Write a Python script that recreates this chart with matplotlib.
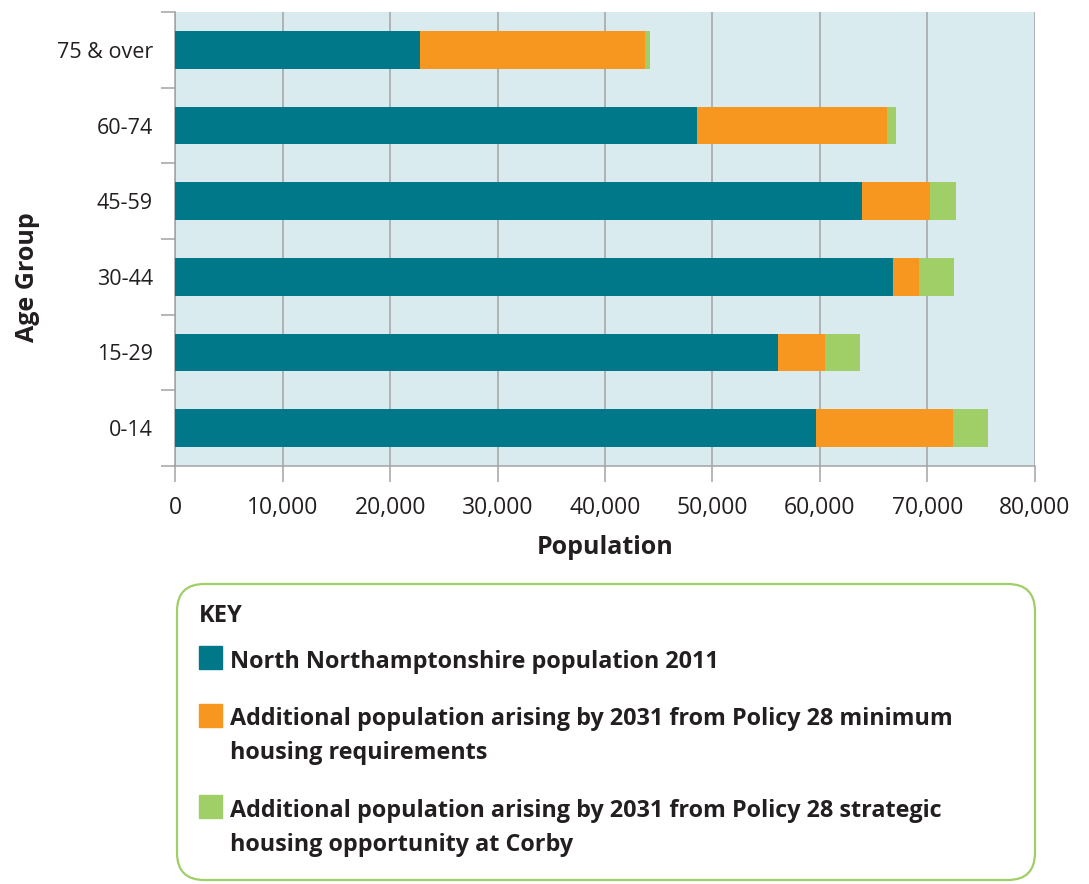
import matplotlib
matplotlib.use("Agg")
import matplotlib.pyplot as plt
import numpy as np
from matplotlib.patches import FancyBboxPatch, Rectangle

# === Data ===
age_groups = ["0-14", "15-29", "30-44", "45-59", "60-74", "75 & over"]
pop_2011 = [59650, 56100, 66800, 63900, 48550, 22800]
add_minimum = [12750, 4400, 2400, 6400, 17700, 20950]
add_corby = [3250, 3250, 3250, 2350, 850, 450]
x_ticks = [0, 10000, 20000, 30000, 40000, 50000, 60000, 70000, 80000]
series_labels = [
    "North Northamptonshire population 2011",
    "Additional population arising by 2031 from Policy 28 minimum\nhousing requirements",
    "Additional population arising by 2031 from Policy 28 strategic\nhousing opportunity at Corby",
]

# === Style ===
teal = "#00788A"
orange = "#F7971F"
green = "#A0CE67"
bg = "#DAEBF0"
grid_grey = "#A3A3A3"
text_col = "#231F20"
plt.rcParams["font.family"] = ["Open Sans", "DejaVu Sans"]

W, H = 1089, 884
fig = plt.figure(figsize=(W / 100, H / 100), dpi=100)
ax = fig.add_axes([175.3 / W, 1 - 466 / H, (1034.7 - 175.3) / W, (466 - 12) / H])
ax.set_facecolor(bg)

y = np.arange(len(age_groups))
left2 = np.array(pop_2011)
left3 = left2 + np.array(add_minimum)
ax.barh(y, pop_2011, height=0.5, color=teal, zorder=3)
ax.barh(y, add_minimum, left=left2, height=0.5, color=orange, zorder=3)
ax.barh(y, add_corby, left=left3, height=0.5, color=green, zorder=3)

ax.set_xlim(0, 80000)
ax.set_ylim(-0.5, len(age_groups) - 0.5)
ax.set_xticks(x_ticks)
ax.set_xticklabels([f"{v:,}" for v in x_ticks])
for v in x_ticks:
    ax.axvline(v, color=grid_grey, lw=1.1, zorder=1)

ax.set_yticks(y)
ax.set_yticklabels(age_groups)
ax.set_yticks(np.arange(-0.5, len(age_groups)), minor=True)
ax.tick_params(axis="y", which="major", length=0, pad=16, labelsize=15.5, labelcolor=text_col)
ax.tick_params(axis="y", which="minor", length=10, width=1.1, color=grid_grey)
ax.tick_params(axis="x", length=11.5, width=1.1, color=grid_grey, pad=10, labelsize=16.5, labelcolor=text_col)

for s in ["top", "right"]:
    ax.spines[s].set_visible(False)
for s in ["left", "bottom"]:
    ax.spines[s].set_color(grid_grey)
    ax.spines[s].set_linewidth(1.1)

# axis titles
fig.text(605 / W, 1 - 548 / H, "Population", fontsize=18, fontweight="bold", color=text_col,
         ha="center", va="center")
fig.text(27 / W, 1 - 277 / H, "Age Group", fontsize=18, fontweight="bold", color=text_col,
         ha="center", va="center", rotation=90)

# === Key box ===
box = FancyBboxPatch((177 / W, 1 - 880 / H), (1035 - 177) / W, (880 - 584) / H,
                     boxstyle="round,pad=0,rounding_size=0.025", transform=fig.transFigure,
                     facecolor="white", edgecolor=green, lw=1.6, mutation_aspect=W / H)
fig.patches.append(box)
fig.text(199 / W, 1 - 622 / H, "KEY", fontsize=17, fontweight="bold", color=text_col, va="baseline")

sq_tops = [646, 704, 795]
baselines = [668, 725, 817]
line_gap = 34
for lab, col, sq, bl in zip(series_labels, [teal, orange, green], sq_tops, baselines):
    fig.patches.append(Rectangle((199 / W, 1 - (sq + 23) / H), 23 / W, 23 / H,
                                 transform=fig.transFigure, color=col))
    for i, line in enumerate(lab.split("\n")):
        fig.text(230 / W, 1 - (bl + i * line_gap) / H, line, fontsize=16.8, fontweight="bold",
                 color=text_col, va="baseline")

fig.savefig("out.png", dpi=100)
